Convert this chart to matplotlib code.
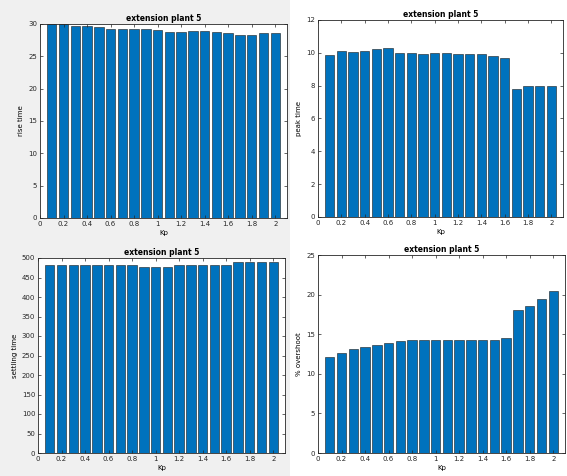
import numpy as np
import matplotlib
matplotlib.use("Agg")
import matplotlib.pyplot as plt
from matplotlib.patches import Rectangle

# gain values swept on the x axis
kp = [0.1, 0.2, 0.3, 0.4, 0.5, 0.6, 0.7, 0.8, 0.9, 1.0,
      1.1, 1.2, 1.3, 1.4, 1.5, 1.6, 1.7, 1.8, 1.9, 2.0]

rise_time = [30.0, 30.0, 29.7, 29.7, 29.5, 29.3, 29.2, 29.2, 29.2, 29.0,
             28.8, 28.8, 28.9, 28.9, 28.8, 28.6, 28.3, 28.3, 28.6, 28.6]
peak_time = [9.86, 10.13, 10.03, 10.13, 10.25, 10.31, 10.0, 10.0, 9.93, 10.0,
             10.0, 9.95, 9.95, 9.9, 9.8, 9.66, 7.77, 7.95, 7.95, 7.97]
settling_time = [483, 483, 483, 483, 483, 483, 483, 483, 477, 477,
                 477, 483, 483, 483, 483, 483, 491, 491, 491, 491]
overshoot = [12.15, 12.6, 13.1, 13.4, 13.6, 13.9, 14.2, 14.25, 14.25, 14.25,
             14.25, 14.25, 14.25, 14.25, 14.25, 14.5, 18.05, 18.55, 19.5, 20.4]

x_ticks = [0, 0.2, 0.4, 0.6, 0.8, 1, 1.2, 1.4, 1.6, 1.8, 2]
x_tick_labels = ["0", "0.2", "0.4", "0.6", "0.8", "1", "1.2", "1.4", "1.6", "1.8", "2"]

W, H = 567, 476
fig = plt.figure(figsize=(W / 100, H / 100), dpi=100)
fig.patch.set_facecolor("white")

# light grey window backgrounds behind the left-hand panels
fig.add_artist(Rectangle((0, 0), 290 / W, 1, transform=fig.transFigure,
                         facecolor="#f0f0f0", edgecolor="none", zorder=0))

bar_color = "#0072BD"


def px_axes(left, top, right, bottom):
    return fig.add_axes([left / W, 1 - bottom / H, (right - left) / W, (bottom - top) / H])


panels = [
    # (left, top, right, bottom), values, ylim, yticks, ylabel
    ((40, 24, 287, 218), rise_time, (0, 30), np.arange(0, 31, 5), "rise time"),
    ((318, 20, 563, 217), peak_time, (0, 12), np.arange(0, 13, 2), "peak time"),
    ((38, 258, 285, 453), settling_time, (0, 500), np.arange(0, 501, 50), "settling time"),
    ((318, 255, 565, 453), overshoot, (0, 25), np.arange(0, 26, 5), "% overshoot"),
]

for box, vals, ylim, yticks, ylabel in panels:
    ax = px_axes(*box)
    ax.set_facecolor("white")
    ax.bar(kp, vals, width=0.08, color=bar_color, edgecolor="#1a1a1a", linewidth=0.4)
    ax.set_xlim(0, 2.1)
    ax.set_ylim(*ylim)
    ax.set_xticks(x_ticks)
    ax.set_xticklabels(x_tick_labels)
    ax.set_yticks(yticks)
    ax.tick_params(direction="in", length=2, width=0.5, labelsize=5,
                   top=True, right=True, pad=2, colors="#262626")
    for s in ax.spines.values():
        s.set_linewidth(0.6)
        s.set_color("#262626")
    ax.set_title("extension plant 5", fontsize=5.5, fontweight="bold", pad=2)
    ax.set_xlabel("Kp", fontsize=5, labelpad=2)
    ax.set_ylabel(ylabel, fontsize=5, labelpad=3)

fig.savefig("out.png", dpi=100, facecolor=fig.get_facecolor())
